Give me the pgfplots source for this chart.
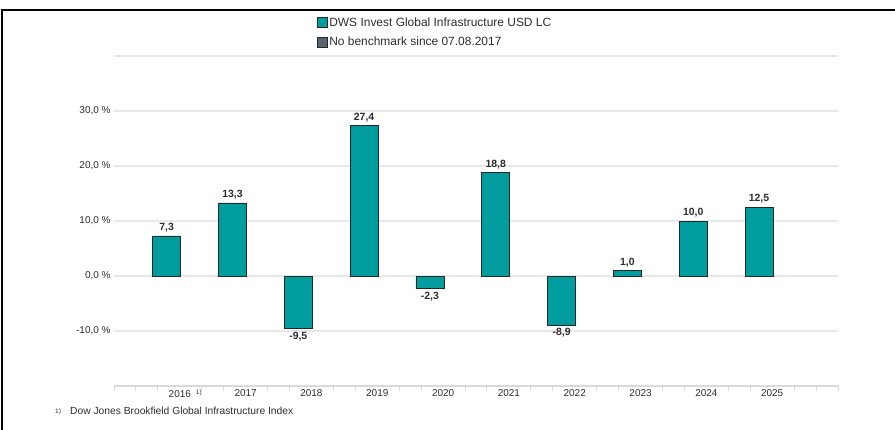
\documentclass[border=0pt]{standalone}
\usepackage{fontspec}
\setmainfont{Liberation Sans}
\usepackage{pgfplots}
\pgfplotsset{compat=1.18}
\definecolor{dwsteal}{RGB}{0,156,158}
\definecolor{bmgrey}{RGB}{88,100,110}
\definecolor{gridgrey}{RGB}{232,232,232}
\definecolor{axisgrey}{RGB}{218,218,218}
\definecolor{txt}{RGB}{45,45,45}
\begin{document}
\begin{tikzpicture}
\useasboundingbox (0bp,0bp) rectangle (895bp,430bp);
\draw[line width=1.5bp] (2bp,0bp) -- (2bp,420bp) -- (895bp,420bp);
\begin{axis}[
  at={(114bp,44bp)}, anchor=south west,
  scale only axis, width=724bp, height=330bp,
  xmin=-0.8, xmax=10.2, ymin=-20, ymax=40,
  ybar, bar width=28bp, bar shift=0pt,
  axis x line*=bottom, axis y line*=left,
  x axis line style={-, draw=axisgrey, line width=2bp},
  y axis line style={draw=none},
  ymajorgrids, grid style={gridgrey, line width=1.2bp},
  ytick={-10,0,10,20,30},
  extra y ticks={40}, extra y tick labels={},
  extra y tick style={ymajorgrids=true},
  /pgf/number format/assume math mode=true,
  yticklabel={\pgfmathprintnumber[fixed,fixed zerofill,precision=1,use comma]{\tick} \%},
  yticklabel style={font=\fontsize{10}{12}\selectfont, text=txt},
  xtick={0.2,1.2,2.2,3.2,4.2,5.2,6.2,7.2,8.2,9.2},
  xticklabels={{2016\rlap{\hspace{5bp}\raisebox{3bp}{\fontsize{6.5}{7}\selectfont 1)}}},2017,2018,2019,2020,2021,2022,2023,2024,2025},
  xticklabel style={font=\fontsize{10}{12}\selectfont, text=txt},
  minor xtick={-0.8,-0.4667,-0.1333,0.5333,0.8667,1.5333,1.8667,2.5333,2.8667,3.5333,3.8667,4.5333,4.8667,5.5333,5.8667,6.5333,6.8667,7.5333,7.8667,8.5333,8.8667,9.5333,9.8667,10.2},
  major tick length=0pt, minor tick length=5bp, tick align=outside,
  minor tick style={axisgrey, line width=1bp},
  nodes near coords,
  nodes near coords style={font=\bfseries\fontsize{10.5}{12}\selectfont, text=txt,
    /pgf/number format/.cd, fixed, fixed zerofill, precision=1, use comma},
  legend image code/.code={\draw[#1, line width=0.6bp] (0bp,-4.5bp) rectangle (9.5bp,5bp);},
  legend style={at={(axis description cs:0.2763,1.129)}, anchor=north west, draw=none, fill=none,
    font=\fontsize{12}{14}\selectfont, text=txt, row sep=5.5bp},
  legend cell align=left,
]
\addplot[fill=dwsteal, draw=black!85, line width=0.7bp] coordinates {
  (0,7.3) (1,13.3) (2,-9.5) (3,27.4) (4,-2.3) (5,18.8) (6,-8.9) (7,1.0) (8,10.0) (9,12.5)};
\addlegendentry{DWS Invest Global Infrastructure USD LC}
\addlegendimage{fill=bmgrey, draw=black!85}
\addlegendentry{No benchmark since 07.08.2017}
\end{axis}
\node[anchor=base west, inner sep=0pt, font=\fontsize{6.5}{7}\selectfont, text=txt] at (55bp,17bp) {1)};
\node[anchor=base west, inner sep=0pt, font=\fontsize{10.3}{12}\selectfont, text=txt] at (70bp,16bp) {Dow Jones Brookfield Global Infrastructure Index};
\end{tikzpicture}
\end{document}
